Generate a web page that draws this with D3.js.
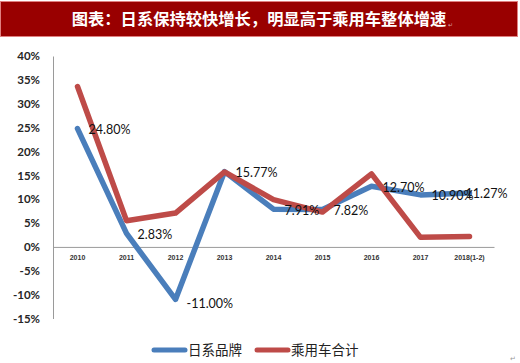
<!DOCTYPE html>
<html>
<head>
<meta charset="utf-8">
<script src="https://cdn.jsdelivr.net/npm/d3@7"></script>
<style>
  body { margin: 0; background: #fff; }
  svg { display: block; }
</style>
</head>
<body>
<script>
var years = ["2010", "2011", "2012", "2013", "2014", "2015", "2016", "2017", "2018(1-2)"];
var japan = [24.80, 2.83, -11.00, 15.77, 7.91, 7.82, 12.70, 10.90, 11.27];
var total = [33.6, 5.5, 7.1, 15.7, 9.9, 7.3, 15.3, 2.0, 2.2];
var yTicks = [-15, -10, -5, 0, 5, 10, 15, 20, 25, 30, 35, 40];
var seriesNames = ["日系品牌", "乘用车合计"];
var colors = ["#4A7EBB", "#BE4B48"];

var width = 520, height = 363;

var svg = d3.select("body").append("svg")
  .attr("width", width)
  .attr("height", height);

// title bar
svg.append("rect")
  .attr("x", 0.5).attr("y", 1.5)
  .attr("width", 517).attr("height", 35)
  .attr("fill", "#990000")
  .attr("stroke", "#E08080")
  .attr("stroke-width", 1);
svg.append("text")
  .attr("x", 259).attr("y", 25)
  .attr("text-anchor", "middle")
  .attr("fill", "#fff")
  .attr("font-family", "Noto Sans CJK SC")
  .attr("font-weight", "bold")
  .attr("font-size", 16.3)
  .text("图表：日系保持较快增长，明显高于乘用车整体增速");
svg.append("text")
  .attr("x", 448).attr("y", 27)
  .attr("fill", "#d9a0a0")
  .attr("font-size", 6)
  .text("↵");

var x = d3.scaleBand().domain(years).range([53, 494]);
var y = d3.scaleLinear().domain([-15, 40]).range([318.5, 56]);
var cx = d => x(d) + x.bandwidth() / 2;

// y axis
var yAxis = svg.append("g")
  .attr("transform", "translate(53,0)")
  .call(d3.axisLeft(y).tickValues(yTicks).tickSize(0).tickPadding(13).tickFormat(d => d + "%"));
yAxis.select(".domain").attr("stroke", "#9a9a9a").attr("stroke-width", 1);
yAxis.selectAll("text")
  .attr("font-family", "Lato, 'Open Sans', sans-serif")
  .attr("font-size", 11.5)
  .attr("font-weight", "bold")
  .attr("fill", "#262626");

// x axis at 0%
var xAxis = svg.append("g")
  .attr("transform", "translate(0," + y(0) + ")")
  .call(d3.axisBottom(x).tickSize(0).tickPadding(8));
xAxis.select(".domain").attr("stroke", "#9a9a9a").attr("stroke-width", 1);
xAxis.selectAll("text")
  .attr("font-family", "'Liberation Sans', Arial, sans-serif")
  .attr("font-size", 7)
  .attr("font-weight", "bold")
  .attr("fill", "#333");

var line = d3.line()
  .x((d, i) => cx(years[i]))
  .y(d => y(d));

[japan, total].forEach(function (s, k) {
  svg.append("path")
    .datum(s)
    .attr("d", line)
    .attr("fill", "none")
    .attr("stroke", colors[k])
    .attr("stroke-width", 5.5)
    .attr("stroke-linejoin", "round")
    .attr("stroke-linecap", "round");
});

// data labels for japan series
svg.append("g").selectAll("text")
  .data(japan)
  .join("text")
  .attr("x", (d, i) => cx(years[i]) + (i === japan.length - 1 ? -4 : 11))
  .attr("y", (d, i) => y(d) + (i === 2 ? 4 : 1))
  .attr("dy", "0.35em")
  .attr("font-family", "Lato, 'Open Sans', sans-serif")
  .attr("font-size", 12.5)
  .attr("fill", "#111")
  .text(d => d.toFixed(2) + "%");

// legend
var legend = svg.append("g");
var lx = [154, 257];
seriesNames.forEach(function (n, k) {
  legend.append("line")
    .attr("x1", lx[k]).attr("x2", lx[k] + 31)
    .attr("y1", 350).attr("y2", 350)
    .attr("stroke", colors[k])
    .attr("stroke-width", 5)
    .attr("stroke-linecap", "round");
  legend.append("text")
    .attr("x", lx[k] + 34).attr("y", 350)
    .attr("dy", "0.35em")
    .attr("font-family", "Noto Sans CJK SC")
    .attr("font-size", 13.5)
    .attr("fill", "#222")
    .text(n);
});

svg.append("text")
  .attr("x", 510).attr("y", 361)
  .attr("fill", "#999")
  .attr("font-size", 7)
  .text("↵");
</script>
</body>
</html>
